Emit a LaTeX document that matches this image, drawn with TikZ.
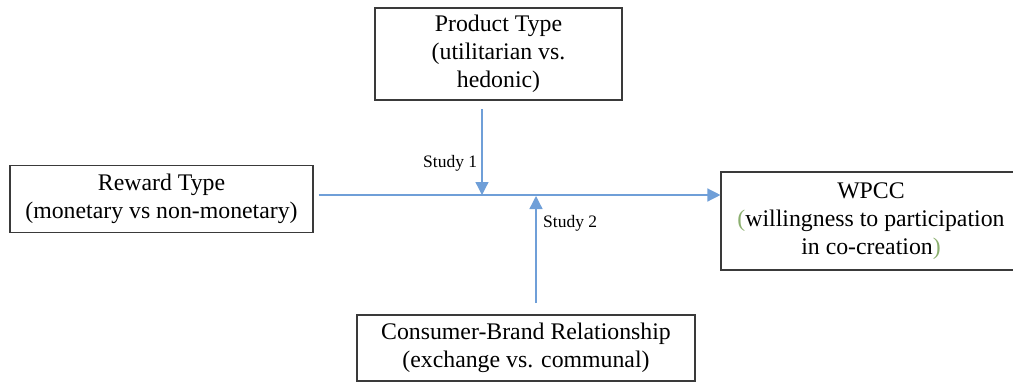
\documentclass[tikz,border=0pt]{standalone}
\usepackage{fontspec}
\setmainfont{Liberation Serif}
\usetikzlibrary{arrows.meta}
\definecolor{arr}{HTML}{6F9FD8}
\definecolor{par}{HTML}{8BAF6F}
\definecolor{frame}{HTML}{3A3A3A}
\begin{document}
\begin{tikzpicture}[x=1pt,y=-1pt,
  box/.style={draw=frame, line width=1.1pt, align=center, inner sep=0pt,
    font=\fontsize{23.8}{28}\selectfont},
  link/.style={draw=arr, line width=1.3pt, -{Triangle[length=13pt,width=13pt]}},
  lbl/.style={font=\fontsize{17.5}{20}\selectfont, inner sep=0pt}]
\useasboundingbox (0,0) rectangle (1013,383);
\node[box, minimum width=247pt, minimum height=92pt] (prod) at (498.5,54)
  {Product Type\\(utilitarian vs.\\hedonic)};
\node[box, minimum width=303pt, minimum height=67pt] (rew) at (161.5,199)
  {Reward Type\\(monetary vs non-monetary)};
\node[box, minimum width=300pt, minimum height=98pt] (wpcc) at (871,221)
  {WPCC\\{\color{par}(}willingness to participation\\in co-creation{\color{par})}};
\node[box, minimum width=338pt, minimum height=66pt] (cbr) at (526,348)
  {Consumer-Brand Relationship\\(exchange vs. communal)};
\coordinate (m) at (0,195);
\coordinate (s1) at (482,109);
\coordinate (s2) at (536,303);
\draw[link] ([xshift=5pt]rew.east |- m) -- (wpcc.west |- m);
\draw[link] (s1) -- (s1 |- m);
\draw[link] (s2) -- ([yshift=-1pt]s2 |- m);
\node[lbl, anchor=west] (l1) at (423,163) {Study 1};
\node[lbl, anchor=west] (l2) at (543,223) {Study 2};
\end{tikzpicture}
\end{document}
